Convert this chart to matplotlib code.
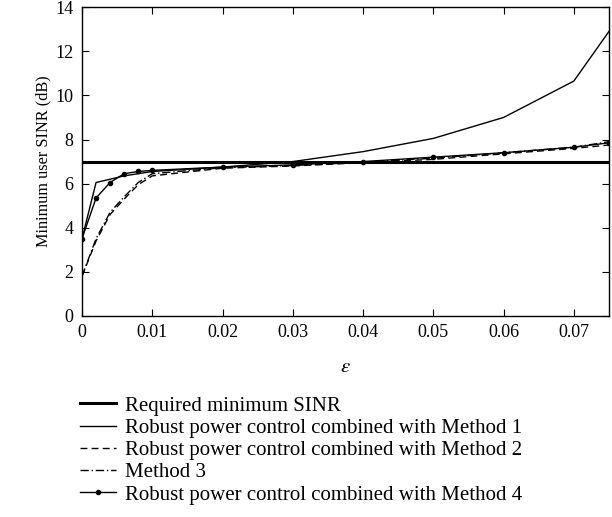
import matplotlib
matplotlib.use("Agg")
import matplotlib.pyplot as plt
from matplotlib.lines import Line2D

plt.rcParams['font.family'] = ['Liberation Serif', 'DejaVu Serif']
plt.rcParams['mathtext.fontset'] = 'stix'

# epsilon values
eps = [0, 0.002, 0.004, 0.006, 0.008, 0.01, 0.02, 0.03, 0.04, 0.05, 0.06, 0.07, 0.075]

# minimum user SINR (dB)
required = 7.0
method1 = [3.5, 6.05, 6.2, 6.35, 6.45, 6.55, 6.75, 7.0, 7.45, 8.05, 9.0, 10.65, 12.9]
method2 = [1.8, 3.4, 4.6, 5.3, 5.95, 6.35, 6.7, 6.8, 6.95, 7.1, 7.35, 7.6, 7.75]
method3 = [1.8, 3.5, 4.7, 5.4, 6.05, 6.45, 6.72, 6.82, 6.97, 7.15, 7.4, 7.65, 7.9]
method4 = [3.5, 5.35, 6.05, 6.45, 6.55, 6.6, 6.75, 6.85, 7.0, 7.2, 7.4, 7.65, 7.85]

fig = plt.figure(figsize=(6.12, 5.17), dpi=100)
ax = fig.add_axes([0.134, 0.389, 0.861, 0.597])

ax.axhline(required, color='black', lw=2.2)
ax.plot(eps, method1, color='black', lw=1.0)
ax.plot(eps, method2, color='black', lw=1.0, ls=(0, (5, 3)))
ax.plot(eps, method3, color='black', lw=1.0, ls=(0, (6, 2, 1, 2)))
ax.plot(eps, method4, color='black', lw=1.0, marker='o', ms=3)

ax.set_xlim(0, 0.075)
ax.set_ylim(0, 14)
ax.set_xticks([0, 0.01, 0.02, 0.03, 0.04, 0.05, 0.06, 0.07])
ax.set_xticklabels(['0', '0.01', '0.02', '0.03', '0.04', '0.05', '0.06', '0.07'])
ax.set_yticks(range(0, 15, 2))
ax.tick_params(direction='in', top=True, right=True, labelsize=13, length=5, pad=6)
for s in ax.spines.values():
    s.set_linewidth(1.0)

ax.set_xlabel(r'$\varepsilon$', fontsize=15, labelpad=12)
ax.set_ylabel('Minimum user SINR (dB)', fontsize=11.7, labelpad=3)

handles = [
    Line2D([], [], color='black', lw=2.2),
    Line2D([], [], color='black', lw=1.0),
    Line2D([], [], color='black', lw=1.0, ls=(0, (5, 3))),
    Line2D([], [], color='black', lw=1.0, ls=(0, (6, 2, 1, 2))),
    Line2D([], [], color='black', lw=1.0, marker='o', ms=3),
]
labels = [
    'Required minimum SINR',
    'Robust power control combined with Method 1',
    'Robust power control combined with Method 2',
    'Method 3',
    'Robust power control combined with Method 4',
]
fig.legend(handles, labels, loc='upper left', bbox_to_anchor=(0.131, 0.234),
           frameon=False, fontsize=15, handlelength=1.7, labelspacing=0.13,
           borderaxespad=0, borderpad=0, handletextpad=0.45)

fig.savefig('out.png', dpi=100)
